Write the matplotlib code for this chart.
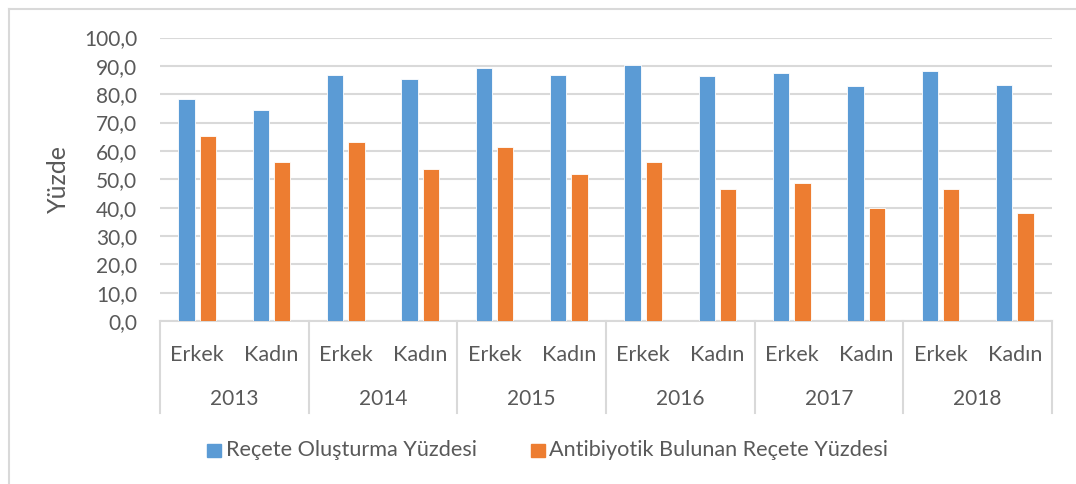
import matplotlib
matplotlib.use("Agg")
import matplotlib.pyplot as plt
from matplotlib.lines import Line2D
from matplotlib.patches import Rectangle

plt.rcParams['font.family'] = ['Lato', 'DejaVu Sans']

years = ["2013", "2014", "2015", "2016", "2017", "2018"]
genders = ["Erkek", "Kadın"]
series_names = ["Reçete Oluşturma Yüzdesi", "Antibiyotik Bulunan Reçete Yüzdesi"]
recete = [78.2, 74.3, 86.9, 85.3, 89.3, 86.8, 90.3, 86.5, 87.6, 83.0, 88.2, 83.3]
antibiyotik = [65.1, 56.2, 63.0, 53.6, 61.2, 51.9, 56.2, 46.5, 48.7, 39.9, 46.7, 38.1]
yticks = [0, 10, 20, 30, 40, 50, 60, 70, 80, 90, 100]

blue = "#5B9BD5"
orange = "#ED7D31"
txt = "#595959"
grid = "#D9D9D9"

W, H = 1076, 484
fig = plt.figure(figsize=(W / 100, H / 100), dpi=100)
ax = fig.add_axes([160 / W, (H - 321) / H, (1052 - 160) / W, (321 - 37.5) / H])

n = len(recete)
x = list(range(n))
bw = 0.22
gap = 0.065
off = (bw + gap) / 2
ax.bar([i - off for i in x], recete, width=bw, color=blue, edgecolor="white", linewidth=0.6, zorder=3)
ax.bar([i + off for i in x], antibiyotik, width=bw, color=orange, edgecolor="white", linewidth=0.6, zorder=3)

ax.set_xlim(-0.5, n - 0.5)
ax.set_ylim(0, 100)
ax.set_yticks(yticks)
ax.set_yticklabels([f"{v:.1f}".replace(".", ",") for v in yticks], fontsize=15, color=txt)
ax.yaxis.grid(True, color=grid, linewidth=1.5, zorder=0)
ax.set_axisbelow(True)
for s in ["top", "right", "left"]:
    ax.spines[s].set_visible(False)
ax.spines["bottom"].set_color(grid)
ax.spines["bottom"].set_linewidth(1.5)
ax.tick_params(axis="y", length=0, pad=16.5)
ax.tick_params(axis="x", length=0, pad=17)
ax.set_xticks(x)
ax.set_xticklabels([genders[i % 2] for i in x], fontsize=15.5, color=txt)

ax.set_ylabel("Yüzde", fontsize=18, color=txt, labelpad=10)

# second-level category axis
trans = ax.get_xaxis_transform()
depth = -(413 - 321) / (321 - 37.5)
for k in range(len(years) + 1):
    xv = -0.5 + 2 * k
    ax.add_line(Line2D([xv, xv], [0, depth], transform=trans, color=grid, linewidth=1.5, clip_on=False))
yr_y = -(399 - 321) / (321 - 37.5)
for k, yr in enumerate(years):
    ax.text(2 * k + 0.5, yr_y, yr, transform=trans, ha="center", va="center", fontsize=15, color=txt)

# legend
ly = (H - 450) / H
fig.patches.append(Rectangle((207 / W, (H - 457) / H), 14 / W, 13 / H, transform=fig.transFigure, color=blue))
fig.text(226 / W, ly, series_names[0], ha="left", va="center", fontsize=15.6, color=txt)
fig.patches.append(Rectangle((531 / W, (H - 457) / H), 14 / W, 13 / H, transform=fig.transFigure, color=orange))
fig.text(549 / W, ly, series_names[1], ha="left", va="center", fontsize=15.6, color=txt)

# outer chart border (top and left visible)
fig.add_artist(Line2D([9 / W, 1.0], [(H - 8.5) / H, (H - 8.5) / H], transform=fig.transFigure, color=grid, linewidth=1.5))
fig.add_artist(Line2D([9 / W, 9 / W], [0, (H - 8.5) / H], transform=fig.transFigure, color=grid, linewidth=1.5))

fig.savefig("out.png", dpi=100)
